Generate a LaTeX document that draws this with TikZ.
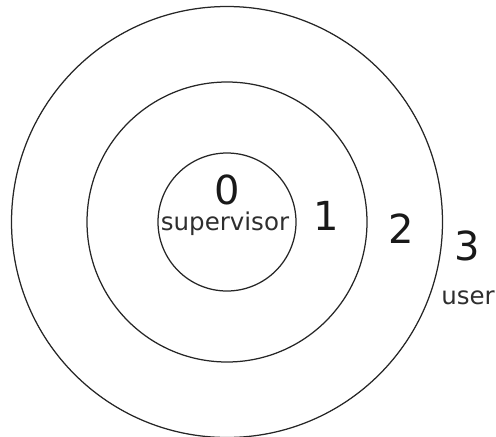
\documentclass[tikz,border=0pt]{standalone}
\usepackage{fontspec}
\setmainfont{DejaVu Sans}
\usetikzlibrary{calc}

\begin{document}
\begin{tikzpicture}[
    x=1pt, y=-1pt,
    ring/.style = {line width=1.25pt, draw=black!85},
    lvl/.style  = {anchor=base, inner sep=0pt, text=black!90,
                   font=\fontsize{40}{44}\selectfont},
    tag/.style  = {anchor=base, inner sep=0pt, text=black!82,
                   font=\fontsize{24.5}{28}\selectfont},
  ]

  % ---------- Rahmen ----------
  \useasboundingbox (0,0) rectangle (496,437);

  % ---------- Parameter ----------
  \def\rA{69}     % Ring 0
  \def\rB{140}    % Ring 1
  \def\rC{215.5}  % Ring 2
  \coordinate (O) at (227,222);

  % ---------- Ringe ----------
  \draw[ring] (O) circle[radius=\rA];
  \draw[ring] (O) circle[radius=\rB];
  \draw[ring] (O) circle[radius=\rC];

  % ---------- Ebenen ----------
  \node[lvl] (l0) at (227,204.5) {0};
  \node[tag] (sup) at (225,230) {supervisor};
  \node[lvl] (l1) at (326,230) {1};
  \node[lvl] (l2) at (401,243) {2};
  \node[lvl] (l3) at (467,260) {3};
  \node[tag] (usr) at (468,304) {user};

\end{tikzpicture}
\end{document}
